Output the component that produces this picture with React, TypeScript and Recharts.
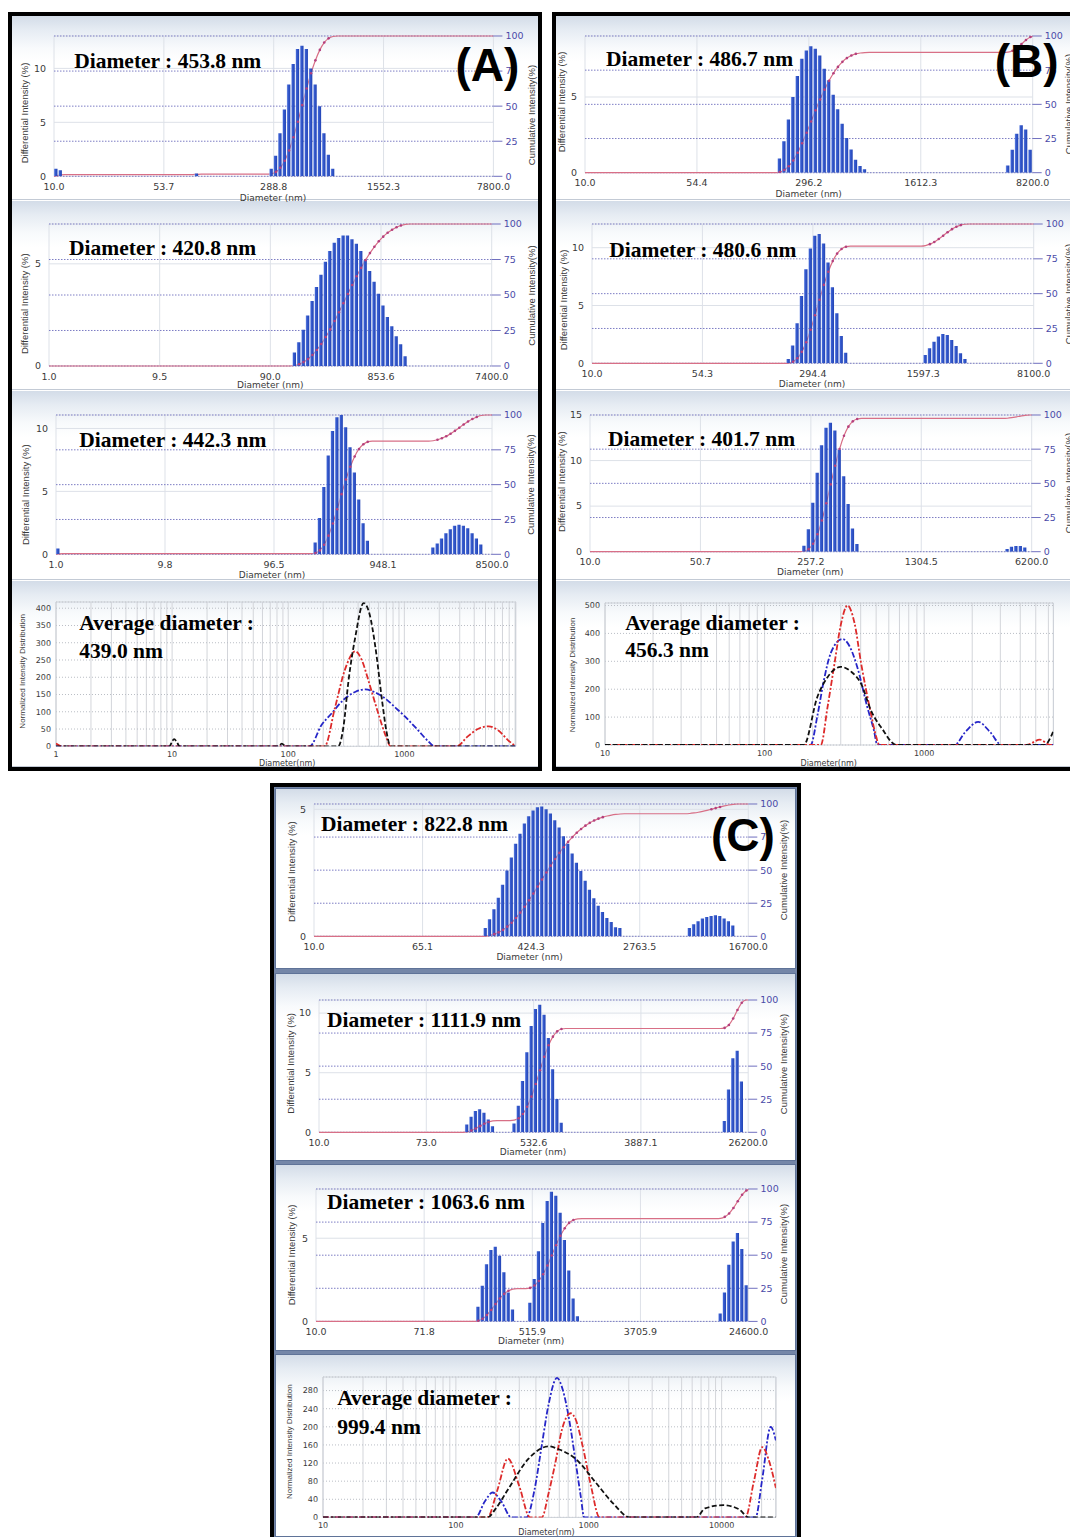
import React from 'react';
import {
  ComposedChart, LineChart, Line, Bar, XAxis, YAxis, CartesianGrid, ReferenceArea,
} from 'recharts';

// Histogram bins: 100 log-spaced bins between the first and last tick.
// Each cluster = [first bin, differential intensity (%) per bin]
type Cluster = [number, number[]];
type Pt = [number, number];

const A1_X = ['10.0', '53.7', '288.8', '1552.3', '7800.0'];
const A1_BARS: Cluster[] = [
  [0, [0.7, 0.55]],
  [32, [0.25]],
  [49, [0.7, 1.9, 4.0, 6.2, 8.5, 10.4, 11.8, 12.1, 11.8, 10.0, 8.5, 6.5, 4.0, 2.0, 0.7]],
];
const A2_X = ['1.0', '9.5', '90.0', '853.6', '7400.0'];
const A2_BARS: Cluster[] = [
  [55, [0.66, 1.16, 1.77, 2.47, 3.18, 3.87, 4.47, 5.1, 5.63, 6.03, 6.27, 6.39, 6.39, 6.2, 5.98, 5.63, 5.17, 4.65, 4.12, 3.54, 2.96, 2.4, 1.94, 1.46, 1.06, 0.48]],
];
const A3_X = ['1.0', '9.8', '96.5', '948.1', '8500.0'];
const A3_BARS: Cluster[] = [
  [0, [0.46]],
  [59, [0.94, 2.88, 5.35, 7.85, 9.8, 10.9, 11.07, 10.1, 8.5, 6.5, 4.35, 2.47, 1.07]],
  [86, [0.54, 0.86, 1.26, 1.67, 1.99, 2.26, 2.34, 2.26, 2.07, 1.67, 1.26, 0.78]],
];
const B1_X = ['10.0', '54.4', '296.2', '1612.3', '8200.0'];
const B1_BARS: Cluster[] = [
  [43, [0.93, 2.07, 3.52, 5.0, 6.39, 7.53, 8.08, 8.35, 8.19, 7.75, 6.87, 6.1, 5.15, 4.19, 3.24, 2.29, 1.54, 0.86, 0.44, 0.22]],
  [94, [0.48, 1.52, 2.58, 3.13, 2.86, 1.52]],
];
const B2_X = ['10.0', '54.3', '294.4', '1597.3', '8100.0'];
const B2_BARS: Cluster[] = [
  [44, [0.37, 1.53, 3.46, 5.82, 8.13, 9.94, 11.04, 11.18, 10.37, 8.73, 6.57, 4.32, 2.36, 0.92]],
  [75, [0.72, 1.3, 1.87, 2.31, 2.54, 2.45, 2.02, 1.5, 0.86, 0.37]],
];
const B3_X = ['10.0', '50.7', '257.2', '1304.5', '6200.0'];
const B3_BARS: Cluster[] = [
  [48, [0.66, 2.45, 5.36, 8.65, 11.68, 13.6, 14.16, 13.3, 11.2, 8.28, 5.22, 2.55, 0.84]],
  [94, [0.29, 0.55, 0.62, 0.62, 0.47]],
];
const C1_X = ['10.0', '65.1', '424.3', '2763.5', '16700.0'];
const C1_BARS: Cluster[] = [
  [39, [0.33, 0.67, 1.07, 1.52, 2.03, 2.59, 3.1, 3.64, 4.04, 4.44, 4.73, 4.95, 5.08, 5.11, 5.0, 4.84, 4.57, 4.28, 3.94, 3.64, 3.26, 2.9, 2.57, 2.19, 1.83, 1.5, 1.2, 0.96, 0.72, 0.56, 0.36, 0.33]],
  [86, [0.33, 0.47, 0.59, 0.7, 0.76, 0.8, 0.83, 0.8, 0.7, 0.59, 0.43]],
];
const C2_X = ['10.0', '73.0', '532.6', '3887.1', '26200.0'];
const C2_BARS: Cluster[] = [
  [34, [0.66, 1.31, 1.79, 1.94, 1.65, 1.08, 0.51]],
  [45, [0.74, 2.22, 4.3, 6.72, 8.92, 10.34, 10.71, 9.86, 7.92, 5.3, 2.79, 0.8]],
  [94, [0.94, 3.59, 6.21, 6.84, 4.27]],
];
const C3_X = ['10.0', '71.8', '515.9', '3705.9', '24600.0'];
const C3_BARS: Cluster[] = [
  [37, [0.88, 2.14, 3.43, 4.29, 4.49, 3.94, 2.96, 1.73, 0.71]],
  [49, [1.12, 2.55, 4.22, 5.92, 7.24, 7.8, 7.55, 6.53, 4.9, 3.06, 1.37, 0.31]],
  [93, [0.47, 1.73, 3.41, 4.8, 5.31, 4.35, 2.18]],
];

const X_TICK_POS = [0, 25, 50, 75, 100];
const CUM_TICKS = [0, 25, 50, 75, 100];

// Average (normalized intensity) curves: [diameter nm, value]
const A_BLACK: Pt[] = [[1, 0], [9.5, 0], [10, 14], [10.4, 21], [11, 12], [11.6, 0], [82, 0], [88, 8], [95, 0], [270, 0], [300, 60], [330, 188], [378, 316], [446, 415], [500, 385], [564, 286], [645, 129], [700, 45], [762, 0], [9100, 0]];
const A_RED: Pt[] = [[1, 8], [1.12, 0], [206, 0], [252, 110], [308, 222], [378, 275], [430, 250], [493, 188], [603, 90], [690, 31], [762, 0], [2830, 0], [3500, 28], [4300, 50], [5330, 58], [6500, 45], [7800, 18], [9100, 0]];
const A_BLUE: Pt[] = [[1, 0], [153, 0], [193, 61], [236, 95], [300, 135], [380, 158], [463, 165], [560, 156], [700, 136], [850, 110], [1000, 88], [1300, 48], [1600, 15], [1820, 0], [9100, 0]];
const B_BLACK: Pt[] = [[10, 0], [176, 0], [214, 172], [248, 243], [300, 280], [350, 262], [402, 220], [464, 124], [562, 47], [620, 12], [667, 0], [5670, 0], [6450, 50]];
const B_RED: Pt[] = [[10, 0], [225, 0], [248, 136], [274, 291], [300, 430], [331, 500], [365, 440], [403, 291], [464, 112], [500, 30], [524, 0], [4370, 0], [5310, 19], [6150, 0], [6450, 0]];
const B_BLUE: Pt[] = [[10, 0], [194, 0], [215, 110], [235, 231], [260, 330], [307, 380], [340, 355], [381, 279], [440, 136], [484, 53], [509, 0], [1550, 0], [1800, 45], [2180, 83], [2600, 45], [3050, 0], [6450, 0]];
const C_BLACK: Pt[] = [[10, 0], [173, 0], [200, 20], [246, 61], [351, 129], [499, 157], [600, 150], [798, 129], [1135, 76], [1525, 31], [2040, 0], [6460, 0], [7500, 20], [10300, 27], [13500, 18], [16000, 0], [25600, 0]];
const C_RED: Pt[] = [[10, 0], [173, 0], [205, 60], [246, 130], [300, 69], [361, 0], [443, 0], [500, 55], [561, 121], [631, 196], [731, 230], [800, 215], [897, 159], [1040, 69], [1205, 0], [15100, 0], [17500, 80], [20200, 155], [23000, 120], [25600, 65]];
const C_BLUE: Pt[] = [[10, 0], [141, 0], [165, 35], [189, 55], [220, 35], [261, 0], [340, 0], [390, 60], [443, 159], [498, 249], [577, 308], [640, 280], [709, 219], [798, 121], [871, 46], [923, 0], [18000, 0], [20200, 84], [23400, 200], [25600, 170]];

const A_AVG_LABELS = [1, 10, 100, 1000];
const B_AVG_LABELS = [10, 100, 1000];
const C_AVG_LABELS = [10, 100, 1000, 10000];
const A_AVG_Y = [0, 50, 100, 150, 200, 250, 300, 350, 400];
const B_AVG_Y = [0, 100, 200, 300, 400, 500];
const C_AVG_Y = [0, 40, 80, 120, 160, 200, 240, 280];

const TICK = { fontSize: 9.5, fill: '#3a3a3a', fontFamily: 'DejaVu Sans' };
const RTICK = { fontSize: 9.5, fill: '#4a4aa8', fontFamily: 'DejaVu Sans' };
const SMALL = { fontSize: 8, fill: '#3a3a3a', fontFamily: 'DejaVu Sans' };

function buildRows(clusters: Cluster[]) {
  const h: number[] = Array(100).fill(0);
  clusters.forEach(([start, vals]) => vals.forEach((v, i) => { h[start + i] = v; }));
  const total = h.reduce((s, v) => s + v, 0);
  let run = 0;
  const rows = h.map((v, i) => {
    const mid = run + v / 2;
    run += v;
    return { x: i + 0.5, h: v, c: (mid / total) * 100 };
  });
  // end rows one bin outside so the cumulative line reaches both plot edges
  return [{ x: -0.5, h: 0, c: 0 }, ...rows, { x: 100.5, h: 0, c: 100 }];
}

function logGrid(min: number, max: number) {
  const out: number[] = [];
  for (let e = 0; e <= 5; e++) {
    for (let m = 1; m <= 9; m++) {
      const v = Math.pow(10, e) * m;
      if (v >= min && v <= max) out.push(v);
    }
  }
  return out;
}

const toObj = (pts: Pt[]) => pts.map(([d, v]) => ({ d, v }));

const HISTS = [
  { id: 'A1', x: A1_X, bars: A1_BARS, yMax: 13, yTicks: [0, 5, 10], L: 53.9, T: 36.3, R: 493.3, B: 176.6, note: 'Diameter : 453.8 nm', nx: 74.2, ny: 67.8, lt: [25, 113], rt: [532, 115], bt: [273, 201] },
  { id: 'A2', x: A2_X, bars: A2_BARS, yMax: 6.95, yTicks: [0, 5], L: 48.9, T: 224.3, R: 491.6, B: 366.3, note: 'Diameter : 420.8 nm', nx: 69.1, ny: 254.8, lt: [24.2, 303.8], rt: [532, 295.5], bt: [270.3, 388] },
  { id: 'A3', x: A3_X, bars: A3_BARS, yMax: 11.07, yTicks: [0, 5, 10], L: 55.6, T: 415.3, R: 491.6, B: 554.6, note: 'Diameter : 442.3 nm', nx: 79.3, ny: 446.8, lt: [25.2, 494.8], rt: [530.5, 484.6], bt: [272, 578] },
  { id: 'B1', x: B1_X, bars: B1_BARS, yMax: 9.03, yTicks: [0, 5], L: 585.3, T: 36, R: 1033, B: 172.7, note: 'Diameter : 486.7 nm', nx: 606, ny: 66, lt: [562, 102], rt: [1068.7, 104], bt: [808.7, 197] },
  { id: 'B2', x: B2_X, bars: B2_BARS, yMax: 12.05, yTicks: [0, 5, 10], L: 592, T: 224, R: 1033.7, B: 363.3, note: 'Diameter : 480.6 nm', nx: 609.3, ny: 257.3, lt: [563.7, 300], rt: [1068.7, 294], bt: [812, 386.7] },
  { id: 'B3', x: B3_X, bars: B3_BARS, yMax: 15, yTicks: [0, 5, 10, 15], L: 590.3, T: 415, R: 1032, B: 551.7, note: 'Diameter : 401.7 nm', nx: 608, ny: 446, lt: [561.3, 481.7], rt: [1068.7, 483], bt: [810.3, 575] },
  { id: 'C1', x: C1_X, bars: C1_BARS, yMax: 5.21, yTicks: [0, 5], L: 314.1, T: 804.4, R: 748.4, B: 936.7, note: 'Diameter : 822.8 nm', nx: 320.9, ny: 830.9, lt: [292, 871.6], rt: [784, 870], bt: [529.6, 959.8] },
  { id: 'C2', x: C2_X, bars: C2_BARS, yMax: 11.1, yTicks: [0, 5, 10], L: 319.2, T: 999.9, R: 748.4, B: 1132.2, note: 'Diameter : 1111.9 nm', nx: 327, ny: 1027, lt: [290.4, 1063.3], rt: [784, 1064], bt: [533, 1154.9] },
  { id: 'C3', x: C3_X, bars: C3_BARS, yMax: 7.96, yTicks: [0, 5], L: 315.8, T: 1188.8, R: 748.4, B: 1321.2, note: 'Diameter : 1063.6 nm', nx: 327, ny: 1209.2, lt: [292, 1255], rt: [784, 1254], bt: [531.2, 1344.2] },
];

const AVGS = [
  { id: 'A4', domain: [1, 9100], labels: A_AVG_LABELS, yMax: 418, yTicks: A_AVG_Y, black: A_BLACK, red: A_RED, blue: A_BLUE, L: 55.6, T: 602, R: 515.3, B: 746.3, value: '439.0 nm', nx: 79.3, ny: 630, ny2: 658.4, lt: [21.8, 671.3], bt: [287.2, 766] },
  { id: 'B4', domain: [10, 6450], labels: B_AVG_LABELS, yMax: 509, yTicks: B_AVG_Y, black: B_BLACK, red: B_RED, blue: B_BLUE, L: 605.3, T: 602.7, R: 1053.7, B: 744.7, value: '456.3 nm', nx: 625.3, ny: 630, ny2: 657.3, lt: [572, 675], bt: [828.7, 766] },
  { id: 'C4', domain: [10, 25600], labels: C_AVG_LABELS, yMax: 310, yTicks: C_AVG_Y, black: C_BLACK, red: C_RED, blue: C_BLUE, L: 322.6, T: 1376.5, R: 775.5, B: 1516.9, value: '999.4 nm', nx: 337.2, ny: 1405, ny2: 1434.1, lt: [288.7, 1441.6], bt: [546.5, 1535] },
];

function Histogram({ p }: { p: typeof HISTS[number] }) {
  const rows = buildRows(p.bars);
  const plotW = p.R - p.L;
  const width = plotW + 80;
  const height = p.B - p.T + 8 + 22;
  const gid = `bar-${p.id}`;
  const renderDot = (props: any) => {
    const { cx, cy, payload, index } = props;
    if (!payload || payload.h < 0.8) return <g key={index} />;
    return <circle key={index} cx={cx} cy={cy} r={1.3} fill="#b4407e" />;
  };
  return (
    <div style={{ position: 'absolute', left: p.L - 40, top: p.T - 8 }}>
      <ComposedChart width={width} height={height} data={rows} margin={{ top: 8, right: 0, bottom: 0, left: 0 }}>
        <defs>
          <linearGradient id={gid} x1="0" y1="0" x2="1" y2="0">
            <stop offset="0%" stopColor="#9fb4ee" />
            <stop offset="25%" stopColor="#3a5fd2" />
            <stop offset="100%" stopColor="#2143b4" />
          </linearGradient>
        </defs>
        <CartesianGrid stroke="#dde1e8" />
        <CartesianGrid yAxisId="r" vertical={false} stroke="#7c7cc4" strokeDasharray="1.5 1.5" />
        <XAxis
          type="number" dataKey="x" domain={[0, 100]} ticks={X_TICK_POS} interval={0} allowDataOverflow
          tickFormatter={(v: number) => p.x[Math.round(v / 25)]}
          tick={TICK} tickLine={false} axisLine={false} tickSize={5} height={22}
        />
        <YAxis
          domain={[0, p.yMax]} ticks={p.yTicks} interval={0} allowDataOverflow width={40}
          tick={TICK} tickLine={false} axisLine={false}
        />
        <YAxis
          yAxisId="r" orientation="right" domain={[0, 100]} ticks={CUM_TICKS} interval={0} width={40}
          tick={RTICK} tickLine={{ stroke: '#6f6fbf' }} tickSize={9} tickMargin={3} axisLine={false}
        />
        <Line yAxisId="r" type="monotone" dataKey="c" stroke="#d86f86" strokeWidth={1.2} dot={false} isAnimationActive={false} zIndex={250} />
        <Bar dataKey="h" barSize={plotW / 100 - 0.9} fill={`url(#${gid})`} isAnimationActive={false} />
        <Line yAxisId="r" type="monotone" dataKey="c" stroke="none" dot={renderDot} activeDot={false} isAnimationActive={false} zIndex={450} />
      </ComposedChart>
    </div>
  );
}

function Average({ p }: { p: typeof AVGS[number] }) {
  const grid = logGrid(p.domain[0], p.domain[1]);
  return (
    <div style={{ position: 'absolute', left: p.L - 40, top: p.T - 8 }}>
      <LineChart width={p.R - p.L + 50} height={p.B - p.T + 8 + 16} margin={{ top: 8, right: 10, bottom: 0, left: 0 }}>
        <CartesianGrid horizontal={false} stroke="#d3d5da" />
        <CartesianGrid vertical={false} stroke="#b9bdc4" strokeDasharray="1 2" />
        <ReferenceArea x1={p.domain[0]} x2={p.domain[1]} y1={0} y2={p.yMax} fill="none" fillOpacity={0} stroke="#cdd1d8" />
        <XAxis
          type="number" dataKey="d" scale="log" domain={p.domain} allowDataOverflow ticks={grid} interval={0}
          tickFormatter={(v: number) => (p.labels.includes(v) ? String(v) : '')}
          tick={SMALL} tickLine={false} axisLine={false} tickSize={0} tickMargin={5} height={16}
        />
        <YAxis
          domain={[0, p.yMax]} ticks={p.yTicks} interval={0} allowDataOverflow width={40}
          tick={SMALL} tickLine={false} axisLine={false} tickSize={3} tickMargin={2}
        />
        <Line data={toObj(p.blue)} dataKey="v" type="monotone" stroke="#2626c8" strokeWidth={1.8} strokeDasharray="6 2 2 2" dot={false} isAnimationActive={false} />
        <Line data={toObj(p.red)} dataKey="v" type="monotone" stroke="#dd2a2a" strokeWidth={1.8} strokeDasharray="6 2 2 2" dot={false} isAnimationActive={false} />
        <Line data={toObj(p.black)} dataKey="v" type="monotone" stroke="#111" strokeWidth={1.8} strokeDasharray="5 2.5" dot={false} isAnimationActive={false} />
      </LineChart>
    </div>
  );
}

const PANEL_BG = 'linear-gradient(180deg, #d3dce8 0px, #e6ecf3 14px, #f8fafc 32px, #ffffff 46px)';

const A_PANELS = [[16, 184], [201, 189], [391, 189], [581, 186]];
const C_PANELS = [[788, 181], [973, 188], [1164, 187], [1354, 183]];

function VTitle({ x, y, text, size = 9.5 }: { x: number; y: number; text: string; size?: number }) {
  const bx = x + size * 0.36;
  return (
    <text x={bx} y={y} transform={`rotate(-90 ${bx} ${y})`} textAnchor="middle" fontFamily="Liberation Sans" fontSize={size} fill="#3a3a3a">
      {text}
    </text>
  );
}

export default function App() {
  return (
    <div style={{ position: 'absolute', left: 0, top: 0, width: 1070, height: 1537, overflow: 'hidden', background: '#fff' }}>
      {/* frames */}
      <div style={{ position: 'absolute', left: 8, top: 12, width: 534, height: 759, border: '4px solid #000', boxSizing: 'border-box' }} />
      <div style={{ position: 'absolute', left: 552, top: 12, width: 534, height: 759, border: '4px solid #000', boxSizing: 'border-box' }} />
      <div style={{ position: 'absolute', left: 270, top: 783, width: 531, height: 770, border: '4px solid #000', boxSizing: 'border-box', background: '#7486a8' }} />

      {A_PANELS.map(([t, h], i) => (
        <div key={`a${i}`} style={{ position: 'absolute', left: 12, top: t, width: 526, height: h, background: PANEL_BG, borderBottom: '1px solid #c3cad5', boxSizing: 'border-box' }} />
      ))}
      {A_PANELS.map(([t, h], i) => (
        <div key={`b${i}`} style={{ position: 'absolute', left: 556, top: t, width: 514, height: h, background: PANEL_BG, borderBottom: '1px solid #c3cad5', boxSizing: 'border-box' }} />
      ))}
      {C_PANELS.map(([t, h], i) => (
        <div key={`c${i}`} style={{ position: 'absolute', left: 275, top: t, width: 521, height: h, background: PANEL_BG, border: '1px solid #5f7398', boxSizing: 'border-box' }} />
      ))}

      {HISTS.map((p) => <Histogram key={p.id} p={p} />)}
      {AVGS.map((p) => <Average key={p.id} p={p} />)}

      <svg width={1070} height={1537} style={{ position: 'absolute', left: 0, top: 0, pointerEvents: 'none' }}>
        {HISTS.map((p) => (
          <g key={p.id}>
            <text x={p.nx} y={p.ny} fontFamily="Liberation Serif" fontWeight="bold" fontSize={21.5} fill="#000">{p.note}</text>
            <VTitle x={p.lt[0]} y={p.lt[1]} text="Differential Intensity (%)" />
            <VTitle x={p.rt[0]} y={p.rt[1]} text="Cumulative Intensity(%)" />
            <text x={p.bt[0]} y={p.bt[1]} textAnchor="middle" fontFamily="DejaVu Sans" fontSize={9} fill="#3a3a3a">Diameter (nm)</text>
          </g>
        ))}
        {AVGS.map((p) => (
          <g key={p.id}>
            <text x={p.nx} y={p.ny} fontFamily="Liberation Serif" fontWeight="bold" fontSize={21.5} fill="#000">Average diameter :</text>
            <text x={p.nx} y={p.ny2} fontFamily="Liberation Serif" fontWeight="bold" fontSize={21.5} fill="#000">{p.value}</text>
            <VTitle x={p.lt[0]} y={p.lt[1]} text="Normalized Intensity Distribution" size={8} />
            <text x={p.bt[0]} y={p.bt[1]} textAnchor="middle" fontFamily="DejaVu Sans" fontSize={8} fill="#3a3a3a">Diameter(nm)</text>
          </g>
        ))}
        <text x={455.5} y={81} fontFamily="Liberation Sans" fontWeight="bold" fontSize={46} fill="#000">(A)</text>
        <text x={994.7} y={77} fontFamily="Liberation Sans" fontWeight="bold" fontSize={46} fill="#000">(B)</text>
        <text x={711} y={851} fontFamily="Liberation Sans" fontWeight="bold" fontSize={46} fill="#000">(C)</text>
      </svg>
    </div>
  );
}
